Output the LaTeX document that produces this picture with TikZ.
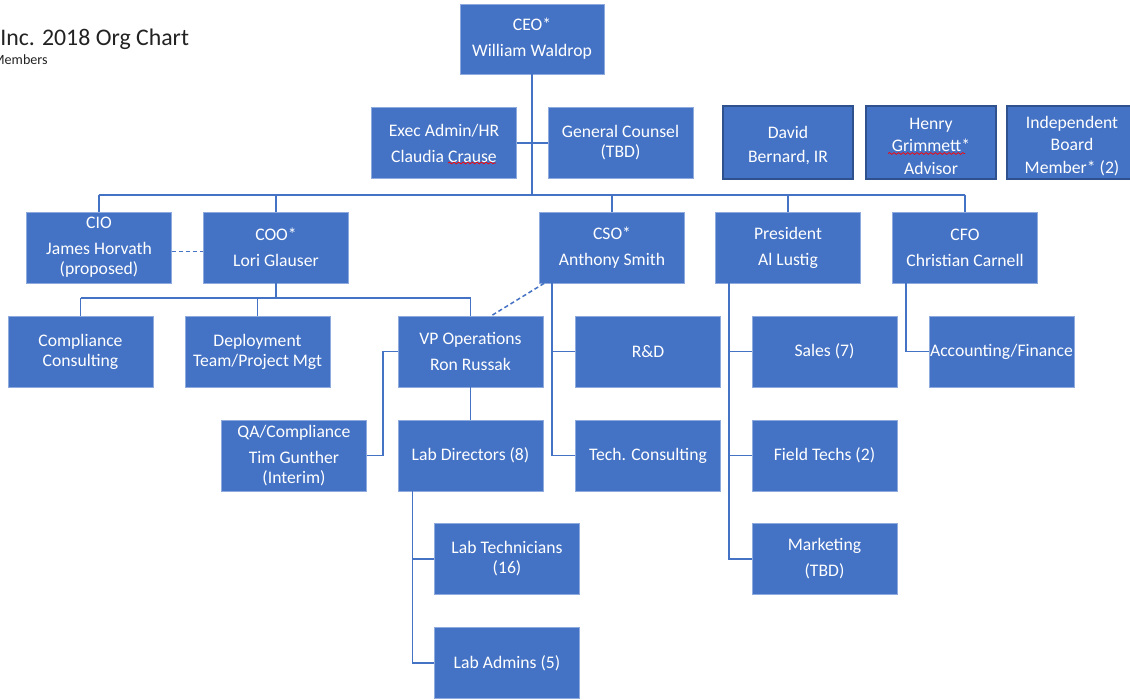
\documentclass[tikz,border=0pt]{standalone}
\usepackage{fontspec}
\setmainfont{Carlito}
\usetikzlibrary{calc,decorations.pathmorphing}
\definecolor{ob}{HTML}{4472C4}
\definecolor{obd}{HTML}{2F528F}
\definecolor{obl}{HTML}{8FAADC}
\definecolor{ttl}{HTML}{222222}
\begin{document}
\begin{tikzpicture}[x=0.5669pt,y=-0.5669pt,
 box/.style={fill=ob,draw=obl,line width=0.4pt,text=white,align=center,inner sep=0pt,
   minimum width=145*0.5669pt,minimum height=71*0.5669pt,font=\fontsize{10}{11.4}\selectfont},
 loose/.style={font=\fontsize{10}{14.7}\selectfont},
 board/.style={box,draw=obd,line width=0.8pt,minimum width=130*0.5669pt,minimum height=73*0.5669pt},
 conn/.style={draw=ob,line width=0.85pt},
 dashconn/.style={conn,dash pattern=on 2.4pt off 1.6pt},
 wavy/.style={draw=red,line width=0.4pt,decorate,decoration={snake,segment length=2.6pt,amplitude=0.5pt}}]
\useasboundingbox (0,0) rectangle (1130,700);

% titles
\node[anchor=base west,inner sep=0pt,text=ttl,font=\fontsize{13.5}{16}\selectfont] (title) at (0,46) {Inc. 2018 Org Chart};
\node[anchor=base east,inner sep=0pt,text=ttl,font=\fontsize{8}{10}\selectfont] (sub) at (48,65) {Members};

% boxes
\node[box,loose,minimum width=144*0.5669pt,minimum height=70*0.5669pt] (ceo) at (532,39) {CEO*\\William Waldrop};
\node[box,loose] (exec) at (444,143) {Exec Admin/HR\\Claudia Crause};
\node[box] (gc) at (620.5,143) {General Counsel\\(TBD)};
\node[board,font=\fontsize{10}{13.6}\selectfont] (david) at (788,142.5) {\rule{0pt}{10.6pt}David\\Bernard, IR};
\node[board,font=\fontsize{10}{12.75}\selectfont] (henry) at (931,142.5) {\rule{0pt}{10.6pt}Henry\\Grimmett*\\Advisor};
\node[board,font=\fontsize{10}{12.75}\selectfont] (ibm) at (1072,142.5) {\rule{0pt}{10.6pt}Independent\\Board\\Member* (2)};

\node[box] (cio) at (99,247.5) {CIO\\[3.3pt]James Horvath\\(proposed)};
\node[box,loose] (coo) at (276,247.5) {COO*\\Lori Glauser};
\node[box,loose] (cso) at (612,247.5) {CSO*\\Anthony Smith};
\node[box,loose] (pres) at (788,247.5) {President\\Al Lustig};
\node[box,loose] (cfo) at (965,247.5) {CFO\\Christian Carnell};

\node[box] (comp) at (80.5,351.5) {Compliance\\Consulting};
\node[box] (dep) at (257.5,351.5) {Deployment\\Team/Project Mgt};
\node[box,loose] (vpo) at (470.5,351.5) {VP Operations\\Ron Russak};
\node[box] (rd) at (648,351.5) {R\&D};
\node[box] (sales) at (824.5,351.5) {Sales (7)};
\node[box] (acct) at (1001.5,351.5) {Accounting/Finance};

\node[box] (qa) at (294,455.5) {QA/Compliance\\[3.3pt]Tim Gunther\\(Interim)};
\node[box] (labdir) at (470.5,455.5) {Lab Directors (8)};
\node[box] (tech) at (648,455.5) {Tech. Consulting};
\node[box] (field) at (824.5,455.5) {Field Techs (2)};

\node[box] (labtech) at (507,559) {Lab Technicians\\(16)};
\node[box,loose] (mkt) at (824.5,559) {Marketing\\(TBD)};
\node[box] (labadm) at (507,663) {Lab Admins (5)};

% spell-check underlines
\coordinate (w1a) at (448,163); \coordinate (w1b) at (496,163);
\coordinate (w2a) at (888,153.5); \coordinate (w2b) at (965,153.5);
\draw[wavy] (w1a) -- (w1b);
\draw[wavy] (w2a) -- (w2b);

% connectors
\coordinate (bus) at (0,195);
\coordinate (coobus) at (0,298);
\draw[conn] (ceo.south) -- (ceo.south |- bus);
\draw[conn] (exec.east) -- (gc.west);
\draw[conn] (cio.north |- bus) -- (cfo.north |- bus);
\foreach \n in {cio,coo,cso,pres,cfo} \draw[conn] (\n.north) -- (\n.north |- bus);

\draw[dashconn] ($(cio.east)+(0,4)$) -- ($(coo.west)+(0,4)$);

\draw[conn] (coo.south) -- (coo.south |- coobus);
\draw[conn] (comp.north |- coobus) -- (vpo.north |- coobus);
\foreach \n in {comp,dep,vpo} \draw[conn] (\n.north) -- (\n.north |- coobus);

\draw[dashconn] ($(cso.south west)+(5,0)$) -- ($(vpo.north)+(21,0)$);

\coordinate (csostem) at ($(cso.south west)+(13,0)$);
\draw[conn] (csostem) |- (rd.west);
\draw[conn] (csostem) |- (tech.west);

\draw[conn] (vpo.south) -- (labdir.north);
\draw[conn] (qa.east) -- ++(16,0) |- (vpo.west);

\coordinate (ldstem) at ($(labdir.south west)+(15,0)$);
\draw[conn] (ldstem) |- (labtech.west);
\draw[conn] (ldstem) |- (labadm.west);

\coordinate (prstem) at ($(pres.south west)+(14,0)$);
\draw[conn] (prstem) |- (sales.west);
\draw[conn] (prstem) |- (field.west);
\draw[conn] (prstem) |- (mkt.west);

\coordinate (cfostem) at ($(cfo.south west)+(14,0)$);
\draw[conn] (cfostem) |- (acct.west);
\end{tikzpicture}
\end{document}
